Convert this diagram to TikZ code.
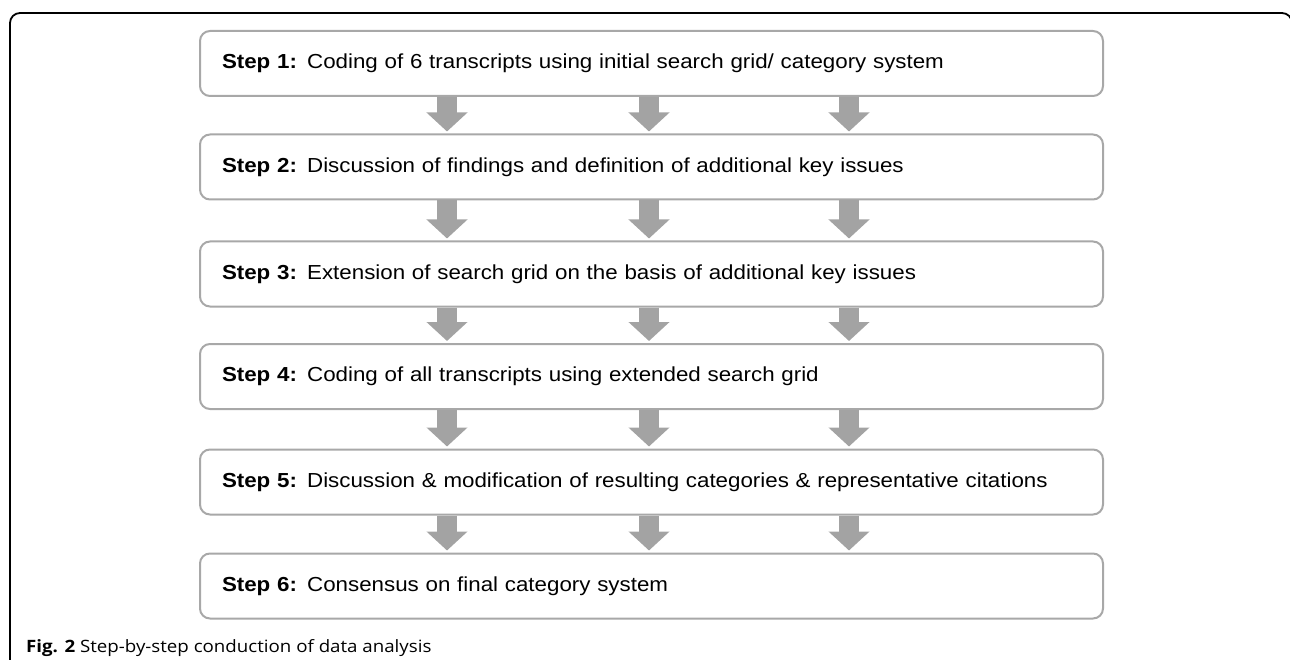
\documentclass[tikz,border=0pt]{standalone}
\usepackage{fontspec}
\setmainfont[FakeStretch=1.1]{Liberation Sans}
\newfontfamily\capfont[FakeStretch=1.1]{Open Sans}
\usetikzlibrary{arrows.meta}
\definecolor{boxgray}{HTML}{A8A8A8}
\definecolor{arrowgray}{HTML}{A3A3A3}
\tikzset{
  stepbox/.style={draw=boxgray, line width=2pt, rounded corners=10pt, fill=white,
    minimum width=903pt, minimum height=65pt, text width=859pt, align=left,
    inner xsep=22pt, inner ysep=0pt, font=\fontsize{20.3pt}{24pt}\selectfont},
  fatarrow/.style={draw=arrowgray, line width=20pt,
    -{Triangle[width=40pt,length=19pt]}, shorten >=2pt},
  frameline/.style={draw=black, line width=1.8pt, rounded corners=10pt}
}
\begin{document}
\begin{tikzpicture}[x=1pt,y=-1pt]
\useasboundingbox (0,0) rectangle (1290,660);
\begin{scope}
\clip (0,0) rectangle (1290,660);
\draw[frameline] (10,700) -- (10,13) -- (1292,13) -- (1292,700);
\end{scope}
\coordinate (c1) at (447,0);
\coordinate (c2) at (649,0);
\coordinate (c3) at (849,0);
\node[stepbox] (s1) at (651.5,63.5) {\textbf{Step 1:} Coding of 6 transcripts using initial search grid/ category system};
\node[stepbox] (s2) at (651.5,167) {\textbf{Step 2:} Discussion of findings and definition of additional key issues};
\node[stepbox] (s3) at (651.5,274) {\textbf{Step 3:} Extension of search grid on the basis of additional key issues};
\node[stepbox] (s4) at (651.5,376.5) {\textbf{Step 4:} Coding of all transcripts using extended search grid};
\node[stepbox] (s5) at (651.5,482) {\textbf{Step 5:} Discussion \& modification of resulting categories \& representative citations};
\node[stepbox] (s6) at (651.5,586) {\textbf{Step 6:} Consensus on final category system};
\foreach \a/\b in {s1/s2,s2/s3,s3/s4,s4/s5,s5/s6}{
  \foreach \c in {c1,c2,c3}{
    \draw[fatarrow] (\a.south -| \c) -- (\b.north -| \c);
  }
}
\node[anchor=base west, inner sep=0pt, font=\capfont\fontsize{17pt}{20pt}\selectfont] (cap) at (26,652) {\textbf{Fig. 2} Step-by-step conduction of data analysis};
\end{tikzpicture}
\end{document}
